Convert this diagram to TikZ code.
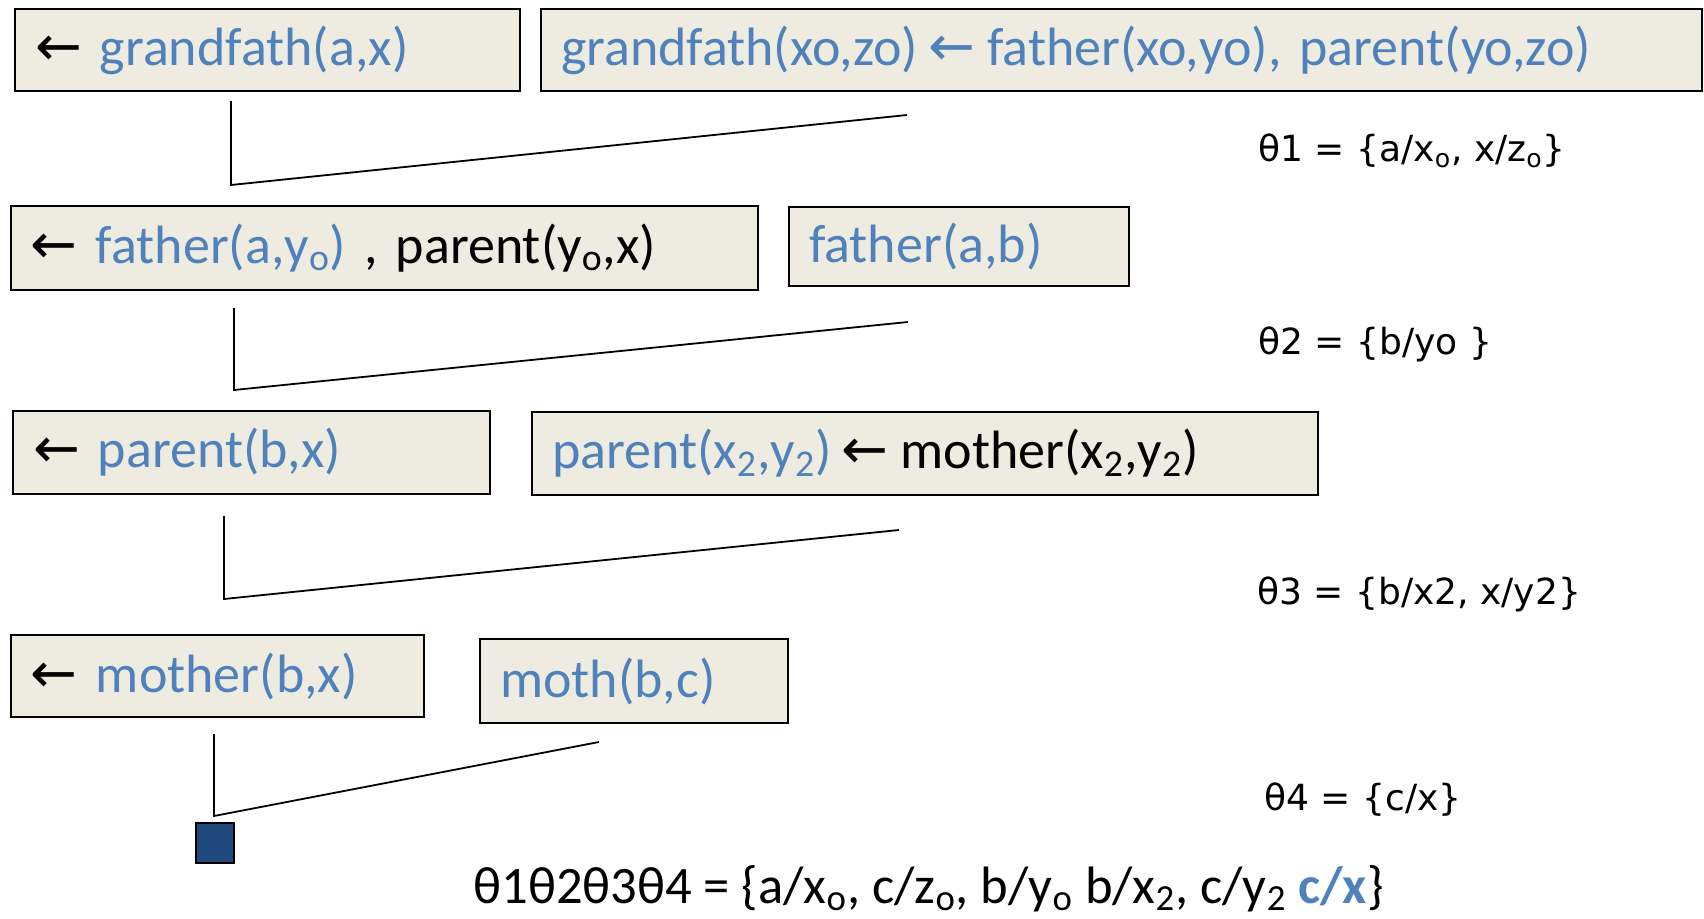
\documentclass[tikz,border=0pt]{standalone}
\usepackage{fontspec}
\setmainfont{Carlito}
\newfontfamily\substfont{DejaVu Sans}
\usetikzlibrary{positioning}
\usetikzlibrary{calc}
\definecolor{boxfill}{HTML}{EEECE1}
\definecolor{goalblue}{HTML}{4F81BD}
\definecolor{emptyfill}{HTML}{1F497D}
\tikzset{
    % A clause of the refutation, text set from the left edge
    clause/.style={draw, line width=1pt, fill=boxfill, anchor=north west,
        inner xsep=10pt, inner ysep=0pt,
        font=\fontsize{27}{31}\selectfont},
%
    % The lines joining a goal and a clause to their resolvent
    resolvent/.style={line width=0.9pt},
%
    % The substitution of each step, down the right hand side
    subst/.style={anchor=base west, inner sep=0pt,
        font=\substfont\fontsize{18}{22}\selectfont}}
\newcommand{\so}{\textsubscript{o}}
\newcommand{\stwo}{\textsubscript{2}}
\newcommand{\impl}{{\substfont\fontsize{28}{31}\selectfont ←}}
% tighter arrow inside a rule
\newcommand{\ruleimpl}{\hspace{5pt}\impl\hspace{6pt}}

\begin{document}
\begin{tikzpicture}[x=0.5pt, y=-0.5pt]
\useasboundingbox (0,0) rectangle (1704,919);

% Step 1: goal and grandfather rule
\node [clause, text width=232.5pt, minimum height=41pt] (grandgoal) at (14,8)
    {\impl{} \textcolor{goalblue}{grandfath(a,x)}};
\node [clause, text width=560.5pt, minimum height=41pt] (grandrule) at (540,8)
    {\color{goalblue}grandfath(xo,zo)\ruleimpl father(xo,yo), parent(yo,zo)};
\coordinate (drop1) at (231,101);
\coordinate (join1) at (231,185);
\coordinate (reach1) at (907,115);
\draw [resolvent] (drop1) -- (join1) -- (reach1);
\node [subst] (theta1) at (1258,162) {θ1 = \{a/x\so, x/z\so\}};

% Step 2: father fact
\node [clause, text width=353.5pt, minimum height=42pt] (fathergoal) at (10,205)
    {\impl{} \textcolor{goalblue}{father(a,y\so)} , parent(y\so,x)};
\node [clause, text width=150pt, minimum height=39.5pt] (fatherfact) at (788,206)
    {\color{goalblue}father(a,b)};
\coordinate (drop2) at (234,308);
\coordinate (join2) at (234,390);
\coordinate (reach2) at (908,322);
\draw [resolvent] (drop2) -- (join2) -- (reach2);
\node [subst] (theta2) at (1258,355) {θ2 = \{b/yo \}};

% Step 3: parent rule
\node [clause, text width=218.5pt, minimum height=41.5pt] (parentgoal) at (12,410)
    {\impl{} \textcolor{goalblue}{parent(b,x)}};
\node [clause, text width=373pt, minimum height=41.5pt] (parentrule) at (531,411)
    {\textcolor{goalblue}{parent(x\stwo,y\stwo)}\ruleimpl mother(x\stwo,y\stwo)};
\coordinate (drop3) at (224,516);
\coordinate (join3) at (224,599);
\coordinate (reach3) at (899,530);
\draw [resolvent] (drop3) -- (join3) -- (reach3);
\node [subst] (theta3) at (1257,604) {θ3 = \{b/x2, x/y2\}};

% Step 4: mother fact, ending in the empty clause
\node [clause, text width=186.5pt, minimum height=41pt] (mothergoal) at (10,634)
    {\impl{} \textcolor{goalblue}{mother(b,x)}};
\node [clause, text width=134pt, minimum height=42pt] (motherfact) at (479,638)
    {\color{goalblue}moth(b,c)};
\coordinate (drop4) at (214,734);
\coordinate (join4) at (214,816);
\coordinate (reach4) at (599,742);
\draw [resolvent] (drop4) -- (join4) -- (reach4);
\node [draw, line width=1pt, fill=emptyfill, anchor=north west, inner sep=0pt,
    minimum width=19pt, minimum height=20pt] (empty) at (195,822) {};
\node [subst] (theta4) at (1264,810) {θ4 = \{c/x\}};

% Composed substitution
\node [anchor=base west, inner sep=0pt, font=\fontsize{26.3}{30}\selectfont]
    (composed) at (473,903)
    {θ1θ2θ3θ4 = \{a/x\so, c/z\so, b/y\so{} b/x\stwo, c/y\stwo{}
    \textbf{\textcolor{goalblue}{c/x}}\}};

\end{tikzpicture}
\end{document}
